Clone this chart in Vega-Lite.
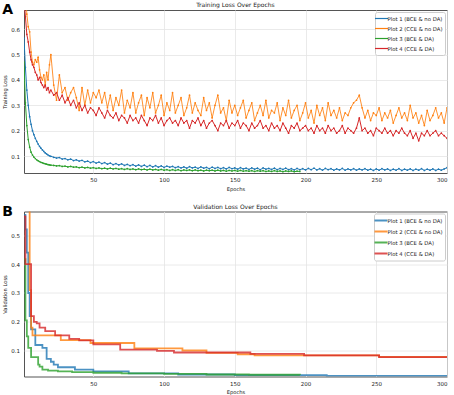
{
"$schema": "https://vega.github.io/schema/vega-lite/v6.json",
"background": "white",
"padding": {"left": 2, "top": 1, "right": 4, "bottom": 1},
"config": {
  "font": "DejaVu Sans",
  "view": {"stroke": "#555", "strokeWidth": 1},
  "axis": {"labelFontSize": 5.5, "titleFontSize": 5.2, "titleFontWeight": "normal", "labelColor": "#222", "titleColor": "#222", "gridColor": "#e4e4e4", "gridWidth": 0.8, "ticks": false, "domain": false, "labelPadding": 4.5, "titlePadding": 3},
  "title": {"fontSize": 6, "fontWeight": "normal", "color": "#222", "offset": 2},
  "legend": {"orient": "top-right", "offset": 2, "title": null, "labelFontSize": 5.3, "labelColor": "#222", "symbolType": "M-2,0H2", "symbolSize": 42, "symbolStrokeWidth": 1.2, "rowPadding": 2, "padding": 2.5, "strokeColor": "#cccccc", "fillColor": "white", "cornerRadius": 2, "labelOffset": 2}
},
"datasets": {
"a1": [{"e":1,"v":0.565},{"e":2,"v":0.45},{"e":3,"v":0.36},{"e":4,"v":0.30},{"e":5,"v":0.255},{"e":6,"v":0.225},{"e":7,"v":0.20},{"e":8,"v":0.184},{"e":9,"v":0.17},{"e":10,"v":0.158},{"e":11,"v":0.147},{"e":12,"v":0.138},{"e":13,"v":0.131},{"e":14,"v":0.124},{"e":15,"v":0.118},{"e":16,"v":0.112},{"e":17,"v":0.108},{"e":18,"v":0.104},{"e":19,"v":0.101},{"e":20,"v":0.099},
{"e":22,"v":0.095},{"e":24,"v":0.092},{"e":26,"v":0.094},{"e":28,"v":0.088},{"e":30,"v":0.090},{"e":32,"v":0.085},{"e":34,"v":0.088},{"e":36,"v":0.082},{"e":38,"v":0.085},{"e":40,"v":0.080},{"e":42,"v":0.083},{"e":44,"v":0.077},{"e":46,"v":0.080},{"e":48,"v":0.074},{"e":50,"v":0.078},{"e":52,"v":0.072},{"e":54,"v":0.076},{"e":56,"v":0.070},{"e":58,"v":0.074},{"e":60,"v":0.068},{"e":62,"v":0.072},{"e":64,"v":0.066},{"e":66,"v":0.070},{"e":68,"v":0.065},{"e":70,"v":0.069},{"e":72,"v":0.063},{"e":74,"v":0.067},{"e":76,"v":0.062},{"e":78,"v":0.066},{"e":80,"v":0.060},{"e":82,"v":0.065},{"e":84,"v":0.059},{"e":86,"v":0.064},{"e":88,"v":0.058},{"e":90,"v":0.063},{"e":92,"v":0.057},{"e":94,"v":0.062},{"e":96,"v":0.056},{"e":98,"v":0.061},{"e":100,"v":0.055},
{"e":102,"v":0.060},{"e":104,"v":0.056},{"e":106,"v":0.059},{"e":108,"v":0.054},{"e":110,"v":0.058},{"e":112,"v":0.053},{"e":114,"v":0.057},{"e":116,"v":0.052},{"e":118,"v":0.058},{"e":120,"v":0.053},{"e":122,"v":0.056},{"e":124,"v":0.051},{"e":126,"v":0.057},{"e":128,"v":0.052},{"e":130,"v":0.055},{"e":132,"v":0.050},{"e":134,"v":0.056},{"e":136,"v":0.051},{"e":138,"v":0.055},{"e":140,"v":0.050},{"e":142,"v":0.054},{"e":144,"v":0.049},{"e":146,"v":0.055},{"e":148,"v":0.050},{"e":150,"v":0.053},{"e":152,"v":0.048},{"e":154,"v":0.054},{"e":156,"v":0.049},{"e":158,"v":0.052},{"e":160,"v":0.047},{"e":162,"v":0.053},{"e":164,"v":0.048},{"e":166,"v":0.052},{"e":168,"v":0.046},{"e":170,"v":0.053},{"e":172,"v":0.048},{"e":174,"v":0.051},{"e":176,"v":0.047},{"e":178,"v":0.052},{"e":180,"v":0.046},{"e":182,"v":0.051},{"e":184,"v":0.047},{"e":186,"v":0.052},{"e":188,"v":0.046},{"e":190,"v":0.050},{"e":192,"v":0.045},{"e":194,"v":0.051},{"e":196,"v":0.046},{"e":198,"v":0.050},{"e":200,"v":0.045},
{"e":202,"v":0.051},{"e":204,"v":0.046},{"e":206,"v":0.052},{"e":208,"v":0.045},{"e":210,"v":0.050},{"e":212,"v":0.044},{"e":214,"v":0.051},{"e":216,"v":0.046},{"e":218,"v":0.050},{"e":220,"v":0.044},{"e":222,"v":0.049},{"e":224,"v":0.045},{"e":226,"v":0.051},{"e":228,"v":0.044},{"e":230,"v":0.049},{"e":232,"v":0.045},{"e":234,"v":0.050},{"e":236,"v":0.044},{"e":238,"v":0.049},{"e":240,"v":0.045},{"e":242,"v":0.050},{"e":244,"v":0.044},{"e":246,"v":0.048},{"e":248,"v":0.043},{"e":250,"v":0.049},{"e":252,"v":0.044},{"e":254,"v":0.050},{"e":256,"v":0.045},{"e":258,"v":0.049},{"e":260,"v":0.043},{"e":262,"v":0.048},{"e":264,"v":0.044},{"e":266,"v":0.050},{"e":268,"v":0.043},{"e":270,"v":0.048},{"e":272,"v":0.044},{"e":274,"v":0.049},{"e":276,"v":0.043},{"e":278,"v":0.048},{"e":280,"v":0.044},{"e":282,"v":0.050},{"e":284,"v":0.043},{"e":286,"v":0.048},{"e":288,"v":0.044},{"e":290,"v":0.049},{"e":292,"v":0.043},{"e":294,"v":0.048},{"e":296,"v":0.044},{"e":298,"v":0.049},{"e":300,"v":0.054}],
"a2": [{"e":1,"v":0.92},{"e":2,"v":0.78},{"e":3,"v":0.66},{"e":4,"v":0.61},{"e":5,"v":0.59},{"e":6,"v":0.51},{"e":7,"v":0.47},{"e":8,"v":0.46},{"e":9,"v":0.48},{"e":10,"v":0.47},{"e":11,"v":0.49},{"e":12,"v":0.44},{"e":13,"v":0.41},{"e":14,"v":0.40},{"e":15,"v":0.42},{"e":16,"v":0.38},{"e":17,"v":0.43},{"e":18,"v":0.40},{"e":19,"v":0.46},{"e":20,"v":0.50},
{"e":22,"v":0.38},{"e":24,"v":0.32},{"e":26,"v":0.42},{"e":28,"v":0.35},{"e":30,"v":0.37},{"e":32,"v":0.32},{"e":34,"v":0.35},{"e":36,"v":0.37},{"e":38,"v":0.33},{"e":40,"v":0.28},{"e":42,"v":0.37},{"e":44,"v":0.30},{"e":46,"v":0.36},{"e":48,"v":0.31},{"e":50,"v":0.35},{"e":52,"v":0.33},{"e":54,"v":0.36},{"e":56,"v":0.31},{"e":58,"v":0.35},{"e":60,"v":0.29},{"e":62,"v":0.34},{"e":64,"v":0.28},{"e":66,"v":0.33},{"e":68,"v":0.30},{"e":70,"v":0.36},{"e":72,"v":0.27},{"e":74,"v":0.32},{"e":76,"v":0.29},{"e":78,"v":0.35},{"e":80,"v":0.27},{"e":82,"v":0.31},{"e":84,"v":0.34},{"e":86,"v":0.26},{"e":88,"v":0.33},{"e":90,"v":0.29},{"e":92,"v":0.35},{"e":94,"v":0.27},{"e":96,"v":0.30},{"e":98,"v":0.34},{"e":100,"v":0.26},
{"e":102,"v":0.31},{"e":104,"v":0.28},{"e":106,"v":0.35},{"e":108,"v":0.27},{"e":110,"v":0.30},{"e":112,"v":0.33},{"e":114,"v":0.26},{"e":116,"v":0.29},{"e":118,"v":0.34},{"e":120,"v":0.27},{"e":122,"v":0.31},{"e":124,"v":0.28},{"e":126,"v":0.26},{"e":128,"v":0.33},{"e":130,"v":0.28},{"e":132,"v":0.31},{"e":134,"v":0.25},{"e":136,"v":0.30},{"e":138,"v":0.34},{"e":140,"v":0.27},{"e":142,"v":0.29},{"e":144,"v":0.24},{"e":146,"v":0.32},{"e":148,"v":0.27},{"e":150,"v":0.30},{"e":152,"v":0.26},{"e":154,"v":0.29},{"e":156,"v":0.32},{"e":158,"v":0.25},{"e":160,"v":0.28},{"e":162,"v":0.31},{"e":164,"v":0.24},{"e":166,"v":0.27},{"e":168,"v":0.30},{"e":170,"v":0.26},{"e":172,"v":0.32},{"e":174,"v":0.25},{"e":176,"v":0.28},{"e":178,"v":0.27},{"e":180,"v":0.31},{"e":182,"v":0.24},{"e":184,"v":0.29},{"e":186,"v":0.26},{"e":188,"v":0.32},{"e":190,"v":0.25},{"e":192,"v":0.28},{"e":194,"v":0.30},{"e":196,"v":0.24},{"e":198,"v":0.27},{"e":200,"v":0.31},
{"e":202,"v":0.25},{"e":204,"v":0.28},{"e":206,"v":0.23},{"e":208,"v":0.30},{"e":210,"v":0.26},{"e":212,"v":0.29},{"e":214,"v":0.24},{"e":216,"v":0.31},{"e":218,"v":0.26},{"e":220,"v":0.28},{"e":222,"v":0.25},{"e":224,"v":0.29},{"e":226,"v":0.24},{"e":228,"v":0.27},{"e":230,"v":0.26},{"e":232,"v":0.29},{"e":234,"v":0.31},{"e":236,"v":0.32},{"e":238,"v":0.34},{"e":240,"v":0.29},{"e":242,"v":0.25},{"e":244,"v":0.28},{"e":246,"v":0.24},{"e":248,"v":0.27},{"e":250,"v":0.26},{"e":252,"v":0.29},{"e":254,"v":0.24},{"e":256,"v":0.27},{"e":258,"v":0.25},{"e":260,"v":0.28},{"e":262,"v":0.23},{"e":264,"v":0.26},{"e":266,"v":0.29},{"e":268,"v":0.25},{"e":270,"v":0.27},{"e":272,"v":0.24},{"e":274,"v":0.30},{"e":276,"v":0.25},{"e":278,"v":0.27},{"e":280,"v":0.23},{"e":282,"v":0.26},{"e":284,"v":0.22},{"e":286,"v":0.28},{"e":288,"v":0.24},{"e":290,"v":0.26},{"e":292,"v":0.29},{"e":294,"v":0.25},{"e":296,"v":0.27},{"e":298,"v":0.23},{"e":300,"v":0.29}],
"a3": [{"e":1,"v":0.47},{"e":2,"v":0.31},{"e":3,"v":0.22},{"e":4,"v":0.165},{"e":5,"v":0.135},{"e":6,"v":0.115},{"e":7,"v":0.104},{"e":8,"v":0.096},{"e":9,"v":0.09},{"e":10,"v":0.085},{"e":11,"v":0.081},{"e":12,"v":0.078},{"e":13,"v":0.075},{"e":14,"v":0.073},{"e":15,"v":0.071},{"e":16,"v":0.069},{"e":17,"v":0.068},{"e":18,"v":0.066},{"e":19,"v":0.065},{"e":20,"v":0.064},
{"e":22,"v":0.063},{"e":24,"v":0.061},{"e":26,"v":0.062},{"e":28,"v":0.059},{"e":30,"v":0.060},{"e":32,"v":0.057},{"e":34,"v":0.059},{"e":36,"v":0.056},{"e":38,"v":0.057},{"e":40,"v":0.054},{"e":42,"v":0.056},{"e":44,"v":0.053},{"e":46,"v":0.055},{"e":48,"v":0.052},{"e":50,"v":0.054},{"e":52,"v":0.051},{"e":54,"v":0.053},{"e":56,"v":0.050},{"e":58,"v":0.052},{"e":60,"v":0.049},{"e":62,"v":0.052},{"e":64,"v":0.049},{"e":66,"v":0.051},{"e":68,"v":0.048},{"e":70,"v":0.050},{"e":72,"v":0.047},{"e":74,"v":0.050},{"e":76,"v":0.047},{"e":78,"v":0.049},{"e":80,"v":0.046},{"e":82,"v":0.049},{"e":84,"v":0.046},{"e":86,"v":0.048},{"e":88,"v":0.045},{"e":90,"v":0.048},{"e":92,"v":0.045},{"e":94,"v":0.047},{"e":96,"v":0.044},{"e":98,"v":0.047},{"e":100,"v":0.044},
{"e":102,"v":0.046},{"e":104,"v":0.043},{"e":106,"v":0.046},{"e":108,"v":0.043},{"e":110,"v":0.046},{"e":112,"v":0.042},{"e":114,"v":0.045},{"e":116,"v":0.043},{"e":118,"v":0.045},{"e":120,"v":0.042},{"e":122,"v":0.045},{"e":124,"v":0.042},{"e":126,"v":0.044},{"e":128,"v":0.041},{"e":130,"v":0.044},{"e":132,"v":0.042},{"e":134,"v":0.044},{"e":136,"v":0.041},{"e":138,"v":0.044},{"e":140,"v":0.041},{"e":142,"v":0.043},{"e":144,"v":0.040},{"e":146,"v":0.043},{"e":148,"v":0.041},{"e":150,"v":0.043},{"e":152,"v":0.040},{"e":154,"v":0.043},{"e":156,"v":0.040},{"e":158,"v":0.042},{"e":160,"v":0.040},{"e":162,"v":0.042},{"e":164,"v":0.039},{"e":166,"v":0.042},{"e":168,"v":0.040},{"e":170,"v":0.042},{"e":172,"v":0.039},{"e":174,"v":0.041},{"e":176,"v":0.039},{"e":178,"v":0.042},{"e":180,"v":0.039},{"e":182,"v":0.041},{"e":184,"v":0.038},{"e":186,"v":0.041},{"e":188,"v":0.039},{"e":190,"v":0.041},{"e":192,"v":0.038},{"e":194,"v":0.040},{"e":196,"v":0.039}],
"a4": [{"e":1,"v":0.72},{"e":2,"v":0.65},{"e":3,"v":0.58},{"e":4,"v":0.55},{"e":5,"v":0.51},{"e":6,"v":0.48},{"e":7,"v":0.46},{"e":8,"v":0.45},{"e":9,"v":0.43},{"e":10,"v":0.42},{"e":11,"v":0.40},{"e":12,"v":0.41},{"e":13,"v":0.39},{"e":14,"v":0.38},{"e":15,"v":0.37},{"e":16,"v":0.38},{"e":17,"v":0.36},{"e":18,"v":0.37},{"e":19,"v":0.35},{"e":20,"v":0.36},
{"e":22,"v":0.34},{"e":24,"v":0.35},{"e":26,"v":0.32},{"e":28,"v":0.34},{"e":30,"v":0.31},{"e":32,"v":0.33},{"e":34,"v":0.30},{"e":36,"v":0.32},{"e":38,"v":0.29},{"e":40,"v":0.31},{"e":42,"v":0.28},{"e":44,"v":0.30},{"e":46,"v":0.27},{"e":48,"v":0.29},{"e":50,"v":0.28},{"e":52,"v":0.26},{"e":54,"v":0.29},{"e":56,"v":0.27},{"e":58,"v":0.25},{"e":60,"v":0.28},{"e":62,"v":0.26},{"e":64,"v":0.25},{"e":66,"v":0.27},{"e":68,"v":0.24},{"e":70,"v":0.26},{"e":72,"v":0.25},{"e":74,"v":0.23},{"e":76,"v":0.26},{"e":78,"v":0.24},{"e":80,"v":0.25},{"e":82,"v":0.23},{"e":84,"v":0.26},{"e":86,"v":0.24},{"e":88,"v":0.22},{"e":90,"v":0.25},{"e":92,"v":0.24},{"e":94,"v":0.26},{"e":96,"v":0.23},{"e":98,"v":0.25},{"e":100,"v":0.22},
{"e":102,"v":0.24},{"e":104,"v":0.25},{"e":106,"v":0.23},{"e":108,"v":0.24},{"e":110,"v":0.22},{"e":112,"v":0.25},{"e":114,"v":0.23},{"e":116,"v":0.24},{"e":118,"v":0.21},{"e":120,"v":0.24},{"e":122,"v":0.23},{"e":124,"v":0.25},{"e":126,"v":0.22},{"e":128,"v":0.24},{"e":130,"v":0.21},{"e":132,"v":0.23},{"e":134,"v":0.24},{"e":136,"v":0.22},{"e":138,"v":0.20},{"e":140,"v":0.23},{"e":142,"v":0.22},{"e":144,"v":0.24},{"e":146,"v":0.21},{"e":148,"v":0.23},{"e":150,"v":0.22},{"e":152,"v":0.24},{"e":154,"v":0.21},{"e":156,"v":0.23},{"e":158,"v":0.22},{"e":160,"v":0.20},{"e":162,"v":0.23},{"e":164,"v":0.21},{"e":166,"v":0.22},{"e":168,"v":0.24},{"e":170,"v":0.21},{"e":172,"v":0.22},{"e":174,"v":0.20},{"e":176,"v":0.23},{"e":178,"v":0.21},{"e":180,"v":0.22},{"e":182,"v":0.20},{"e":184,"v":0.23},{"e":186,"v":0.21},{"e":188,"v":0.19},{"e":190,"v":0.22},{"e":192,"v":0.21},{"e":194,"v":0.23},{"e":196,"v":0.20},{"e":198,"v":0.21},{"e":200,"v":0.22},
{"e":202,"v":0.20},{"e":204,"v":0.21},{"e":206,"v":0.19},{"e":208,"v":0.22},{"e":210,"v":0.20},{"e":212,"v":0.21},{"e":214,"v":0.19},{"e":216,"v":0.22},{"e":218,"v":0.20},{"e":220,"v":0.21},{"e":222,"v":0.19},{"e":224,"v":0.20},{"e":226,"v":0.22},{"e":228,"v":0.19},{"e":230,"v":0.21},{"e":232,"v":0.20},{"e":234,"v":0.19},{"e":236,"v":0.21},{"e":238,"v":0.25},{"e":240,"v":0.20},{"e":242,"v":0.21},{"e":244,"v":0.19},{"e":246,"v":0.20},{"e":248,"v":0.18},{"e":250,"v":0.21},{"e":252,"v":0.20},{"e":254,"v":0.19},{"e":256,"v":0.21},{"e":258,"v":0.19},{"e":260,"v":0.20},{"e":262,"v":0.18},{"e":264,"v":0.20},{"e":266,"v":0.19},{"e":268,"v":0.21},{"e":270,"v":0.19},{"e":272,"v":0.18},{"e":274,"v":0.20},{"e":276,"v":0.17},{"e":278,"v":0.19},{"e":280,"v":0.16},{"e":282,"v":0.19},{"e":284,"v":0.18},{"e":286,"v":0.20},{"e":288,"v":0.18},{"e":290,"v":0.19},{"e":292,"v":0.20},{"e":294,"v":0.18},{"e":296,"v":0.19},{"e":298,"v":0.18},{"e":300,"v":0.17}],
"b1": [{"e":1,"v":0.57},{"e":2,"v":0.52},{"e":3,"v":0.44},{"e":4,"v":0.30},{"e":5,"v":0.22},{"e":6,"v":0.174},{"e":9,"v":0.12},{"e":14,"v":0.11},{"e":17,"v":0.072},{"e":20,"v":0.062},{"e":22,"v":0.052},{"e":25,"v":0.043},{"e":37,"v":0.035},{"e":50,"v":0.029},{"e":75,"v":0.022},{"e":110,"v":0.018},{"e":150,"v":0.016},{"e":215,"v":0.013},{"e":300,"v":0.013}],
"b2": [{"e":1,"v":1.2},{"e":2,"v":0.9},{"e":3,"v":0.8},{"e":4,"v":0.65},{"e":5,"v":0.31},{"e":6,"v":0.18},{"e":7,"v":0.153},{"e":27,"v":0.137},{"e":48,"v":0.127},{"e":79,"v":0.108},{"e":113,"v":0.101},{"e":130,"v":0.093},{"e":152,"v":0.088},{"e":164,"v":0.084},{"e":252,"v":0.079},{"e":300,"v":0.079}],
"b3": [{"e":1,"v":0.417},{"e":2,"v":0.205},{"e":3,"v":0.15},{"e":4,"v":0.11},{"e":6,"v":0.078},{"e":11,"v":0.052},{"e":12,"v":0.045},{"e":14,"v":0.035},{"e":18,"v":0.031},{"e":25,"v":0.029},{"e":35,"v":0.026},{"e":50,"v":0.024},{"e":70,"v":0.022},{"e":100,"v":0.02},{"e":130,"v":0.018},{"e":160,"v":0.017},{"e":196,"v":0.016}],
"b4": [{"e":1,"v":0.565},{"e":2,"v":0.40},{"e":6,"v":0.22},{"e":8,"v":0.20},{"e":10,"v":0.195},{"e":12,"v":0.18},{"e":16,"v":0.168},{"e":23,"v":0.153},{"e":33,"v":0.141},{"e":40,"v":0.136},{"e":50,"v":0.122},{"e":69,"v":0.104},{"e":95,"v":0.10},{"e":107,"v":0.094},{"e":161,"v":0.089},{"e":199,"v":0.084},{"e":252,"v":0.078},{"e":300,"v":0.077}]
},
"spacing": 10.5,
"resolve": {"scale": {"color": "independent", "x": "independent", "y": "independent"}, "legend": {"color": "independent"}, "axis": {"x": "independent", "y": "independent"}},
"vconcat": [
{
  "title": {"text": "A", "anchor": "start", "frame": "bounds", "fontSize": 14, "fontWeight": "bold", "color": "#000", "offset": -15.5},
  "resolve": {"scale": {"color": "independent"}, "legend": {"color": "independent"}},
  "vconcat": [
  {
    "title": {"text": "Training Loss Over Epochs", "anchor": "middle", "frame": "group"},
    "width": 423, "height": 163,
    "encoding": {
      "x": {"field": "e", "type": "quantitative", "scale": {"domain": [1, 300], "nice": false, "zero": false}, "axis": {"values": [50, 100, 150, 200, 250, 300], "title": "Epochs"}},
      "y": {"field": "v", "type": "quantitative", "scale": {"domain": [0.033, 0.676], "nice": false, "zero": false}, "axis": {"values": [0.1, 0.2, 0.3, 0.4, 0.5, 0.6], "format": ".1f", "title": "Training Loss"}}
    },
    "layer": [
      {"data": {"name": "a1"}, "mark": {"type": "line", "strokeWidth": 1, "clip": true, "point": {"size": 3, "filled": true, "clip": true}},
       "encoding": {"color": {"datum": "Plot 1 (BCE & no DA)", "scale": {"domain": ["Plot 1 (BCE & no DA)", "Plot 2 (CCE & no DA)", "Plot 3 (BCE & DA)", "Plot 4 (CCE & DA)"], "range": ["#1f77b4", "#ff7f0e", "#2ca02c", "#d62728"]}, "legend": {"symbolStrokeWidth": 1.2}}}},
      {"data": {"name": "a2"}, "mark": {"type": "line", "strokeWidth": 1, "opacity": 0.85, "clip": true, "point": {"size": 3, "filled": true, "clip": true}},
       "encoding": {"color": {"datum": "Plot 2 (CCE & no DA)"}}},
      {"data": {"name": "a3"}, "mark": {"type": "line", "strokeWidth": 1, "clip": true, "point": {"size": 3, "filled": true, "clip": true}},
       "encoding": {"color": {"datum": "Plot 3 (BCE & DA)"}}},
      {"data": {"name": "a4"}, "mark": {"type": "line", "strokeWidth": 1, "clip": true, "point": {"size": 3, "filled": true, "clip": true}},
       "encoding": {"color": {"datum": "Plot 4 (CCE & DA)"}}}
    ]
  }]
},
{
  "title": {"text": "B", "anchor": "start", "frame": "bounds", "fontSize": 14, "fontWeight": "bold", "color": "#000", "offset": -15.5},
  "resolve": {"scale": {"color": "independent"}, "legend": {"color": "independent"}},
  "vconcat": [
  {
    "title": {"text": "Validation Loss Over Epochs", "anchor": "middle", "frame": "group"},
    "width": 423, "height": 165,
    "encoding": {
      "x": {"field": "e", "type": "quantitative", "scale": {"domain": [1, 300], "nice": false, "zero": false}, "axis": {"values": [50, 100, 150, 200, 250, 300], "title": "Epochs"}},
      "y": {"field": "v", "type": "quantitative", "scale": {"domain": [0.011, 0.582], "nice": false, "zero": false}, "axis": {"values": [0.1, 0.2, 0.3, 0.4, 0.5], "format": ".1f", "title": "Validation Loss"}}
    },
    "layer": [
      {"data": {"name": "b1"}, "mark": {"type": "line", "strokeWidth": 1.8, "opacity": 0.8, "interpolate": "step-after", "clip": true},
       "encoding": {"color": {"datum": "Plot 1 (BCE & no DA)", "scale": {"domain": ["Plot 1 (BCE & no DA)", "Plot 2 (CCE & no DA)", "Plot 3 (BCE & DA)", "Plot 4 (CCE & DA)"], "range": ["#1f77b4", "#ff7f0e", "#2ca02c", "#d62728"]}, "legend": {"symbolStrokeWidth": 2, "symbolOpacity": 0.6}}}},
      {"data": {"name": "b2"}, "mark": {"type": "line", "strokeWidth": 1.8, "opacity": 0.8, "interpolate": "step-after", "clip": true},
       "encoding": {"color": {"datum": "Plot 2 (CCE & no DA)"}}},
      {"data": {"name": "b3"}, "mark": {"type": "line", "strokeWidth": 1.8, "opacity": 0.8, "interpolate": "step-after", "clip": true},
       "encoding": {"color": {"datum": "Plot 3 (BCE & DA)"}}},
      {"data": {"name": "b4"}, "mark": {"type": "line", "strokeWidth": 1.8, "opacity": 0.8, "interpolate": "step-after", "clip": true},
       "encoding": {"color": {"datum": "Plot 4 (CCE & DA)"}}}
    ]
  }]
}
]
}
